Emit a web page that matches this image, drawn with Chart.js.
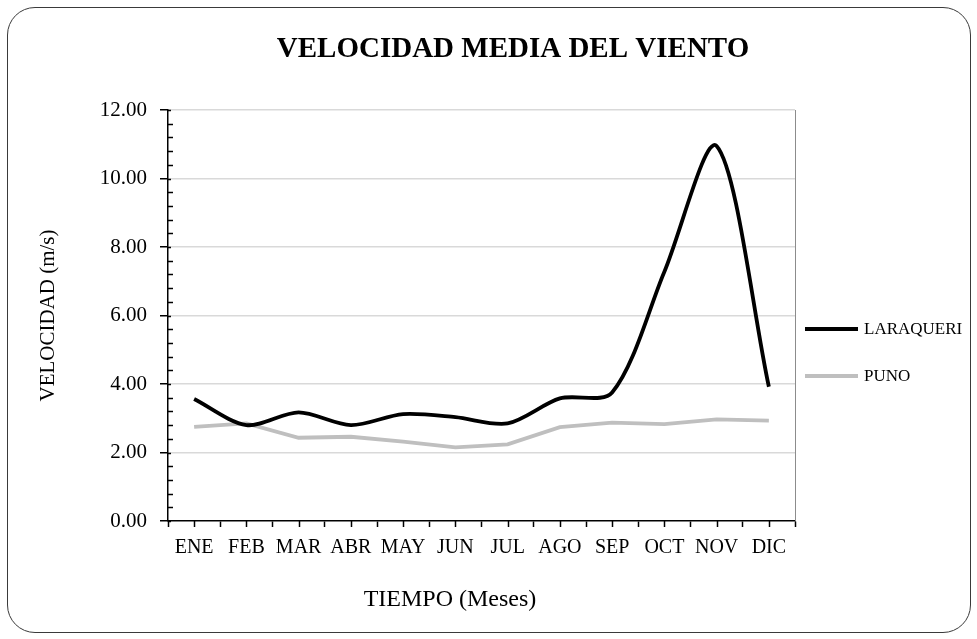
<!DOCTYPE html>
<html><head><meta charset="utf-8">
<script src="https://cdn.jsdelivr.net/npm/chart.js@4.4.1/dist/chart.umd.min.js"></script>
<style>
html,body{margin:0;padding:0;background:#fff;}
#wrap{position:relative;width:977px;height:639px;overflow:hidden;}
#frame{position:absolute;left:7px;top:7px;width:964px;height:626px;border:1.5px solid #3a3a3a;border-radius:28px;box-sizing:border-box;pointer-events:none;}
canvas{position:absolute;left:0;top:0;}
</style></head><body>
<div id="wrap"><canvas id="c" width="977" height="639"></canvas><div id="frame"></div></div>
<script>
const MONTHS = ['ENE','FEB','MAR','ABR','MAY','JUN','JUL','AGO','SEP','OCT','NOV','DIC'];
const LARAQUERI = [3.56, 2.80, 3.17, 2.80, 3.12, 3.03, 2.85, 3.58, 3.75, 7.28, 10.95, 3.92];
const PUNO = [2.75, 2.85, 2.43, 2.46, 2.32, 2.15, 2.24, 2.74, 2.87, 2.83, 2.97, 2.93];
const Y_TICKS = [0, 2, 4, 6, 8, 10, 12];
const Y_MINOR_STEP = 0.4;
const SERIES_NAMES = ['LARAQUERI', 'PUNO'];
const CHART_TITLE = 'VELOCIDAD MEDIA DEL VIENTO';
const X_TITLE = 'TIEMPO (Meses)';
const Y_TITLE = 'VELOCIDAD (m/s)';

const SERIF = "'Liberation Serif','Times New Roman',serif";

const extras = {
  id: 'extras',
  beforeDraw(chart) {
    const ctx = chart.ctx;
    ctx.save();
    ctx.fillStyle = '#fff';
    ctx.fillRect(0, 0, chart.width, chart.height);
    ctx.restore();
  },
  afterDraw(chart) {
    const ctx = chart.ctx;
    const ca = chart.chartArea;
    const xs = chart.scales.x, ys = chart.scales.y;
    ctx.save();
    ctx.strokeStyle = '#8c8c8c';
    ctx.lineWidth = 1;
    ctx.beginPath();
    ctx.moveTo(Math.round(ca.right) + 0.5, ca.top);
    ctx.lineTo(Math.round(ca.right) + 0.5, ca.bottom);
    ctx.stroke();
    ctx.strokeStyle = '#000';
    ctx.lineWidth = 1.5;
    const yMax = Y_TICKS[Y_TICKS.length - 1];
    for (let i = 1; i * Y_MINOR_STEP < yMax; i++) {
      const v = i * Y_MINOR_STEP;
      if (Math.abs(v / 2 - Math.round(v / 2)) < 1e-6) continue;
      const py = Math.round(ys.getPixelForValue(v)) + 0.5;
      ctx.beginPath();
      ctx.moveTo(ca.left, py);
      ctx.lineTo(ca.left + 5, py);
      ctx.stroke();
    }
    Y_TICKS.forEach(v => {
      const py = Math.round(ys.getPixelForValue(v)) + 0.5;
      ctx.beginPath();
      ctx.moveTo(ca.left, py);
      ctx.lineTo(ca.left + 3, py);
      ctx.stroke();
    });
    MONTHS.forEach((m, i) => {
      const px = Math.round(xs.getPixelForValue(i)) + 0.5;
      ctx.beginPath();
      ctx.moveTo(px, ca.bottom);
      ctx.lineTo(px, ca.bottom + 6);
      ctx.stroke();
    });
    ctx.fillStyle = '#000';
    ctx.textAlign = 'center';
    ctx.textBaseline = 'middle';
    ctx.font = "bold 29px " + SERIF;
    ctx.fillText(CHART_TITLE, 513, 50);
    ctx.font = "24px " + SERIF;
    ctx.fillText(X_TITLE, 450, 600);
    ctx.textAlign = 'left';
    ctx.font = "17px " + SERIF;
    const legendY = [329, 376];
    chart.data.datasets.forEach((ds, i) => {
      ctx.strokeStyle = ds.borderColor;
      ctx.lineWidth = 4;
      ctx.beginPath();
      ctx.moveTo(805, legendY[i]);
      ctx.lineTo(858, legendY[i]);
      ctx.stroke();
      ctx.fillStyle = '#000';
      ctx.fillText(ds.label, 864, legendY[i] + 1);
    });
    ctx.restore();
  }
};

new Chart(document.getElementById('c'), {
  type: 'line',
  data: {
    labels: MONTHS,
    datasets: [
      { label: SERIES_NAMES[0], data: LARAQUERI, borderColor: '#000000', backgroundColor: '#000000', borderWidth: 3.8, tension: 0.3, pointRadius: 0, fill: false },
      { label: SERIES_NAMES[1], data: PUNO, borderColor: '#bfbfbf', backgroundColor: '#bfbfbf', borderWidth: 3.8, tension: 0, pointRadius: 0, fill: false }
    ]
  },
  options: {
    responsive: false,
    animation: false,
    devicePixelRatio: 1,
    layout: { padding: { left: 0, right: 182, top: 110, bottom: 0 } },
    plugins: { legend: { display: false }, title: { display: false }, tooltip: { enabled: false } },
    scales: {
      x: {
        type: 'category',
        offset: true,
        grid: { display: true, offset: true, drawOnChartArea: false, drawTicks: true, tickLength: 6, tickColor: '#000', tickWidth: 1.5, color: '#000' },
        border: { display: true, color: '#000', width: 1.5 },
        ticks: { color: '#000', font: { family: SERIF, size: 20 }, padding: 9, maxRotation: 0, autoSkip: false },
        afterFit: s => { s.height = 118; }
      },
      y: {
        min: 0, max: 12,
        afterBuildTicks: s => { s.ticks = Y_TICKS.map(v => ({ value: v })); },
        grid: {
          color: c => (c.tick && c.tick.value === 0) ? 'rgba(0,0,0,0)' : '#d9d9d9',
          lineWidth: 1.5, drawTicks: true, tickLength: 8, tickColor: '#000', tickWidth: 1.5
        },
        border: { display: true, color: '#000', width: 1.5 },
        ticks: { color: '#000', font: { family: SERIF, size: 21 }, padding: 13, callback: v => Number(v).toFixed(2) },
        title: { display: true, text: Y_TITLE, color: '#000', font: { family: SERIF, size: 21 }, padding: { top: 36, bottom: 0 } },
        afterFit: s => { s.width = 168; }
      }
    }
  },
  plugins: [extras]
});
</script>
</body></html>
